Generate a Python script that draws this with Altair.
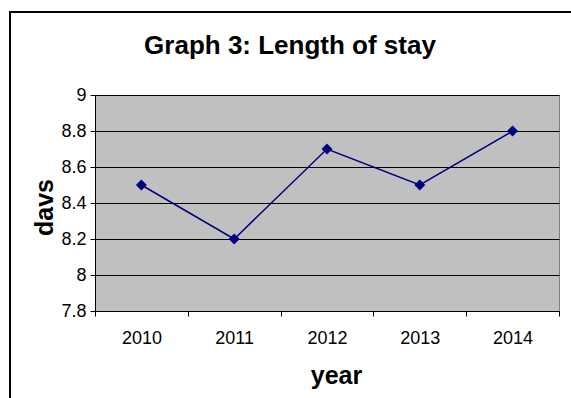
import altair as alt
import pandas as pd

years = ["2010", "2011", "2012", "2013", "2014"]
stay_days = [8.5, 8.2, 8.7, 8.5, 8.8]
y_ticks = [7.8, 8.0, 8.2, 8.4, 8.6, 8.8, 9.0]

df = pd.DataFrame({"year": years, "days": stay_days})

FONT = "Liberation Sans"

x_enc = alt.X(
    "year:N",
    bandPosition=0.5,
    scale=alt.Scale(type="band", paddingInner=0, paddingOuter=0),
    axis=alt.Axis(
        title="year",
        titleFont=FONT, titleFontSize=25, titleFontWeight="bold", titleColor="black",
        titleBaseline="alphabetic", titleX=241, titleY=72,
        labelFont=FONT, labelFontSize=18, labelColor="black", labelAngle=0,
        labelPadding=13,
        tickBand="extent", tickSize=5, tickColor="black", tickWidth=1,
        domainColor="black", domainWidth=1, grid=False,
    ),
)

y_enc = alt.Y(
    "days:Q",
    scale=alt.Scale(domain=[7.8, 9.0], nice=False, zero=False),
    axis=alt.Axis(
        title="davs", values=y_ticks, format="~g",
        titleFont=FONT, titleFontSize=25, titleFontWeight="bold", titleColor="black",
        titleAngle=-90, titleBaseline="alphabetic", titleX=-43, titleY=112,
        labelFont=FONT, labelFontSize=18, labelColor="black", labelPadding=4,
        tickSize=5, tickColor="black", tickWidth=1,
        domainColor="black", domainWidth=1,
        grid=True, gridColor="black", gridWidth=1,
    ),
)

line = alt.Chart(df).mark_line(color="#000080", strokeWidth=1.5).encode(x=x_enc, y=y_enc)
pts = alt.Chart(df).mark_point(shape="diamond", filled=True, color="#000080", size=120, opacity=1).encode(x=x_enc, y=y_enc)

border = alt.Chart(alt.Data(values=[{}])).mark_rect(
    filled=False, stroke="black", strokeWidth=2
).encode(
    x=alt.value(-85), x2=alt.value(495), y=alt.value(-83), y2=alt.value(320)
)

chart = alt.layer(border, line, pts).properties(
    width=464,
    height=216,
    autosize=alt.AutoSizeParams(type="none"),
    padding={"left": 95, "top": 95, "right": 12, "bottom": 87},
    title=alt.TitleParams(
        "Graph 3: Length of stay", font=FONT, fontSize=26, fontWeight="bold",
        color="black", anchor="middle", frame="group", dx=-37, offset=-69,
        baseline="alphabetic",
    ),
).configure(
    background="white",
    view=alt.ViewConfig(fill="#C0C0C0", stroke="#808080", strokeWidth=1),
)

chart.save("out.html", embed_options={"renderer": "svg", "actions": False})
